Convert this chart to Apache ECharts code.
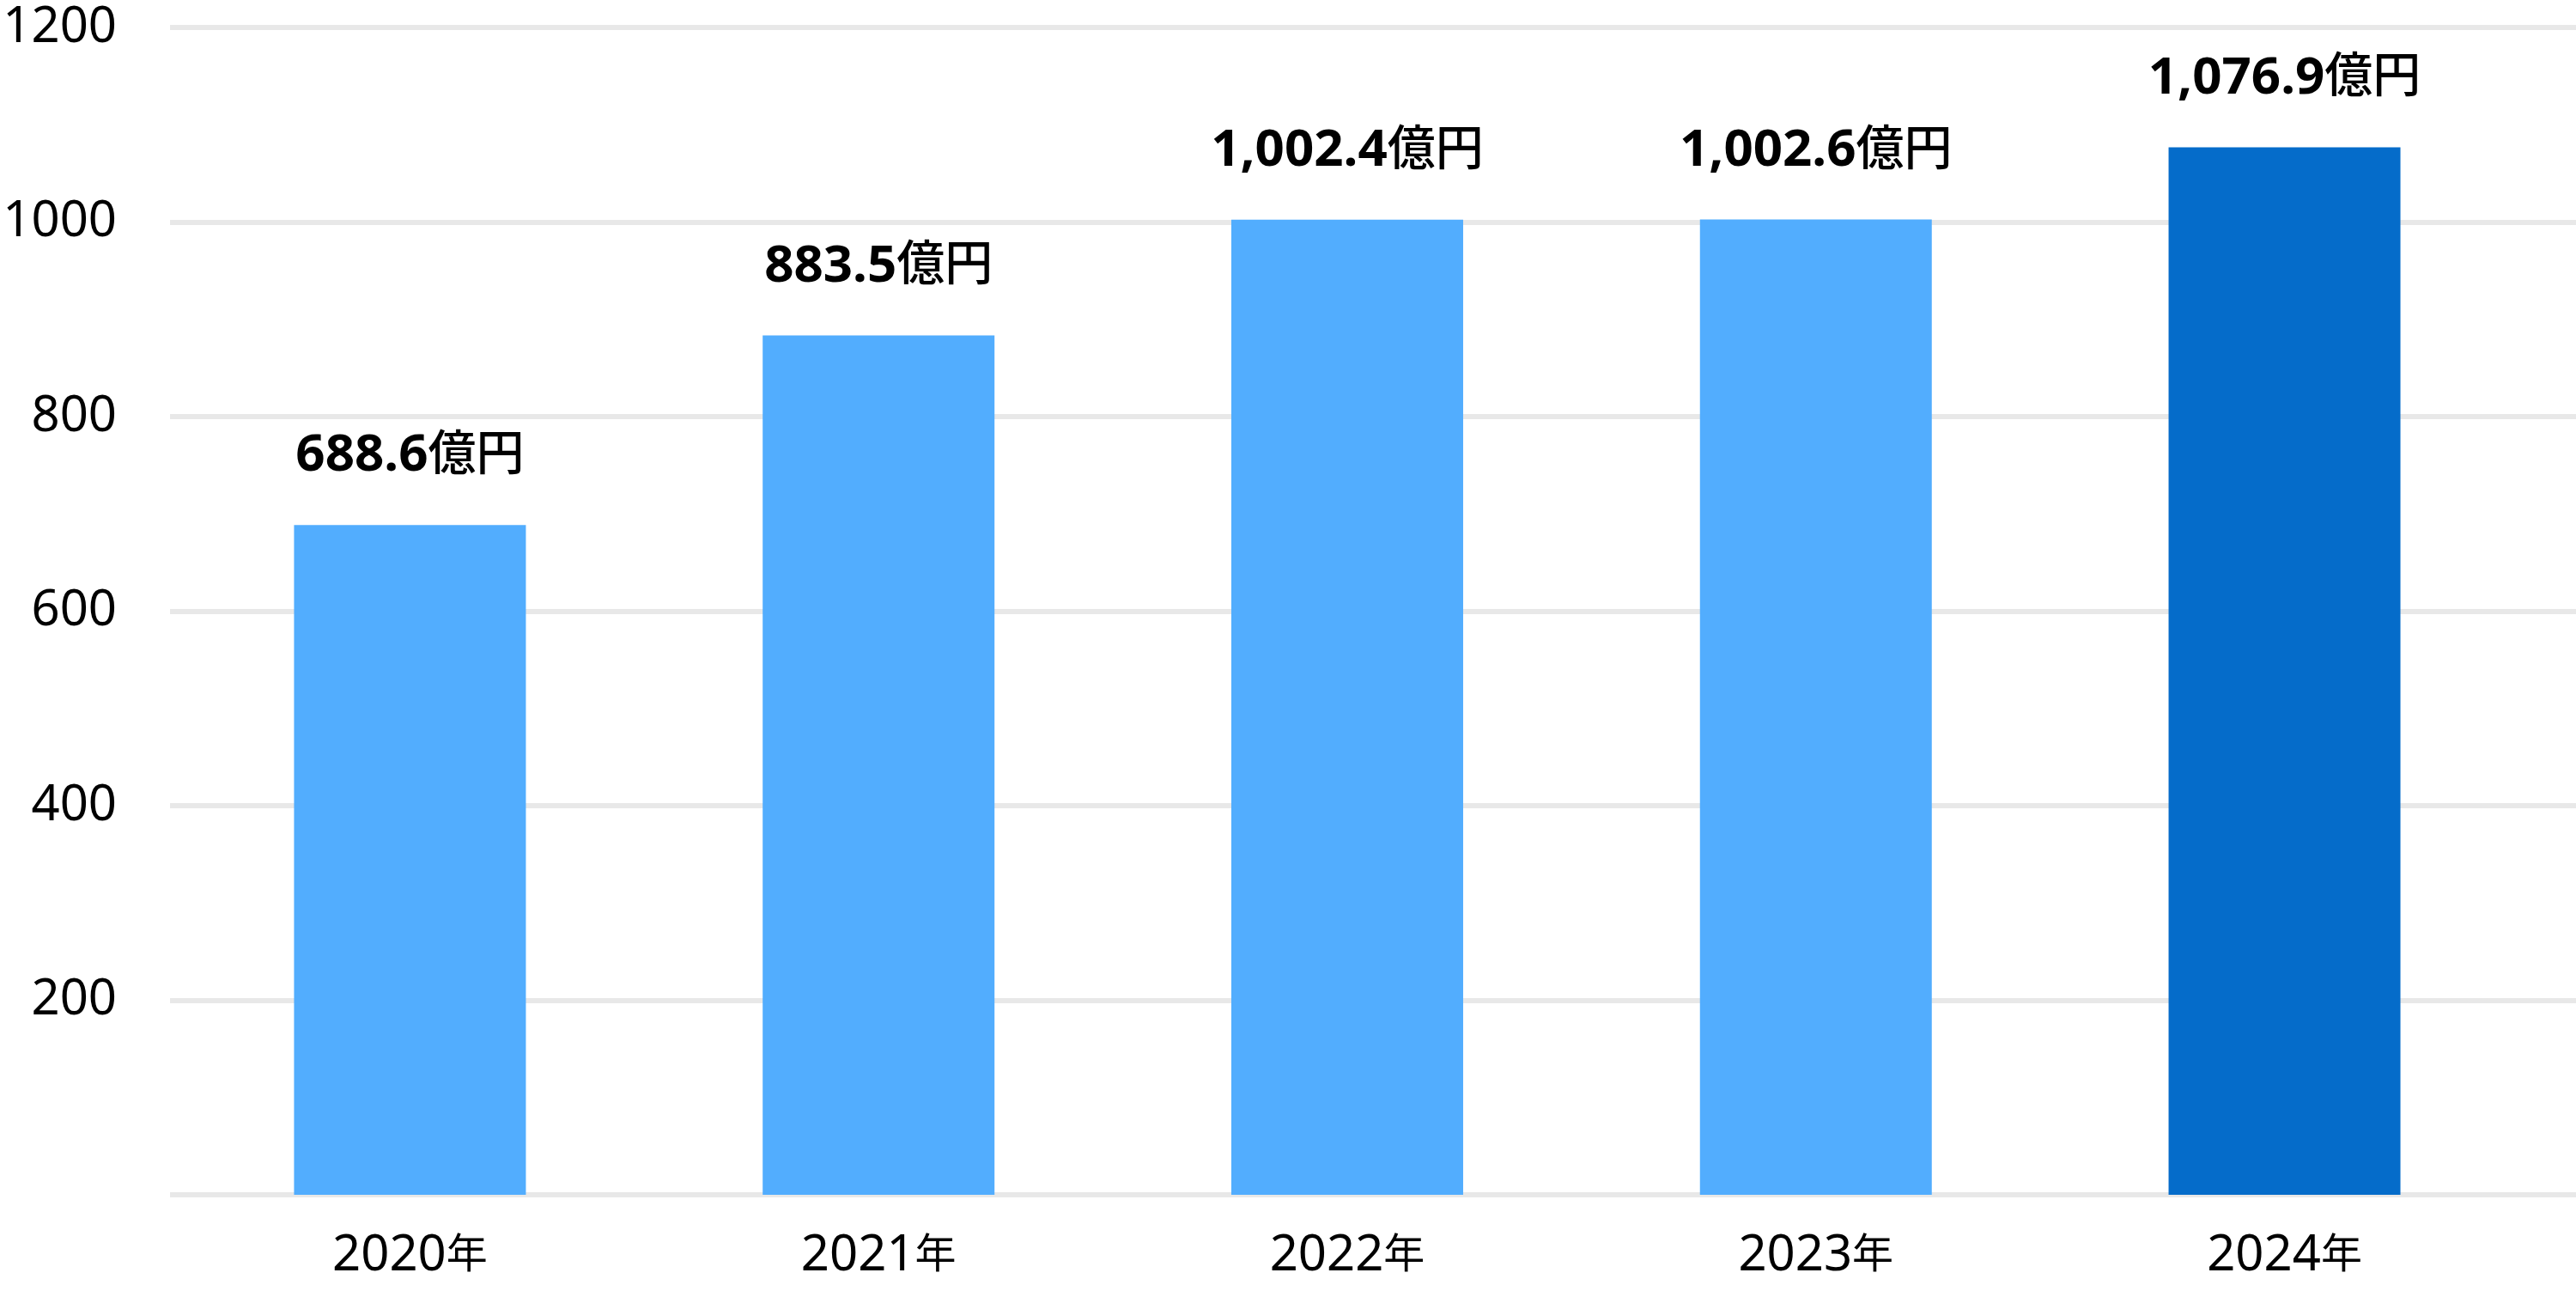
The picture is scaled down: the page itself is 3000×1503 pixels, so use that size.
<!DOCTYPE html>
<html>
<head>
<meta charset="utf-8">
<script src="https://cdn.jsdelivr.net/npm/echarts@6/dist/echarts.min.js"></script>
<style>
  html, body { margin: 0; padding: 0; background: #fff; }
  #chart { width: 3000px; height: 1503px; }
</style>
</head>
<body>
<div id="chart"></div>
<script>
const years = ['2020', '2021', '2022', '2023', '2024']
const revenue = [688.6, 883.5, 1002.4, 1002.6, 1076.9]
const barColors = ['#52adfe', '#52adfe', '#52adfe', '#52adfe', '#056cca']
const yTicks = [0, 200, 400, 600, 800, 1000, 1200]

const fontFamily = "'Noto Sans', 'Noto Sans CJK JP', sans-serif"

const chart = echarts.init(document.getElementById('chart'), null, { renderer: 'canvas' })

function fmt(v) {
  return v.toLocaleString('en-US', { minimumFractionDigits: 1, maximumFractionDigits: 1 })
}

const option = {
  animation: false,
  backgroundColor: '#fff',
  grid: { left: 198, right: 0, top: 32, bottom: 112, containLabel: false, outerBoundsMode: 'none' },
  xAxis: {
    // the source spaces the years a bit unevenly, so a value axis on the index
    type: 'value',
    min: -0.512,
    max: 4.622,
    axisLine: { show: false },
    axisTick: { show: false },
    splitLine: { show: false },
    axisLabel: {
      customValues: years.map((y, i) => i),
      margin: 42,
      formatter: (v) => `{n|${years[v]}}{u|年}`,
      rich: {
        n: { fontFamily, fontSize: 58, color: '#000' },
        u: { fontFamily, fontSize: 48, color: '#000' },
      },
    },
  },
  yAxis: {
    type: 'value',
    min: yTicks[0],
    max: yTicks[yTicks.length - 1],
    interval: 200,
    axisLine: { show: false },
    axisTick: { show: false },
    axisLabel: {
      showMinLabel: false,
      margin: 62,
      color: '#000',
      fontFamily,
      fontSize: 58,
      formatter: (v) => String(v),
    },
    splitLine: { lineStyle: { color: '#e8e8e8', width: 6 } },
  },
  series: [
    {
      type: 'bar',
      barWidth: 270,
      data: revenue.map((v, i) => ({
        value: [i, v],
        itemStyle: { color: barColors[i] },
      })),
      label: {
        show: true,
        position: 'top',
        distance: 50,
        formatter: (p) => `{n|${fmt(p.value[1])}}{u|億円}`,
        rich: {
          n: { fontFamily, fontSize: 60, fontWeight: 'bold', color: '#000' },
          u: { fontFamily, fontSize: 56, fontWeight: 500, color: '#000' },
        },
      },
    },
  ],
}

chart.setOption(option)
</script>
</body>
</html>
